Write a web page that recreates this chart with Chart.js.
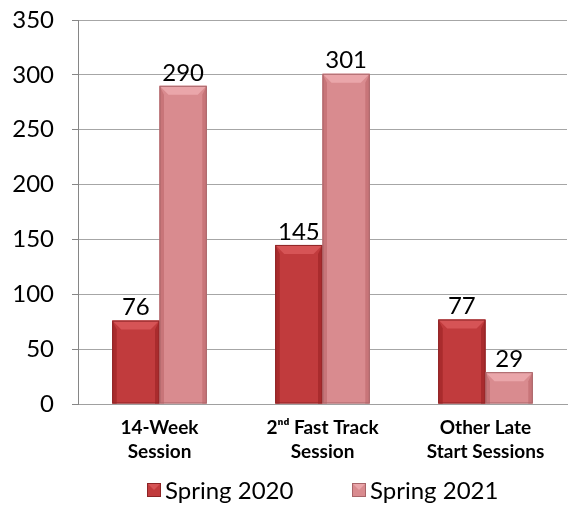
<!DOCTYPE html>
<html>
<head>
<meta charset="utf-8">
<script src="https://cdn.jsdelivr.net/npm/chart.js@4.4.0/dist/chart.umd.min.js"></script>
<style>
  html, body { margin: 0; padding: 0; background: #fff; }
  #wrap { width: 575px; height: 506px; }
</style>
</head>
<body>
<div id="wrap"><canvas id="sessionChart" width="575" height="506"></canvas></div>
<script>
// dados do gráfico
const categorias = [['14-Week', 'Session'], ['2\u207F\u1D48 Fast Track', 'Session'], ['Other Late', 'Start Sessions']];
const spring2020 = [76, 145, 77];
const spring2021 = [290, 301, 29];
const seriesNames = ['Spring 2020', 'Spring 2021'];
const yTicks = [0, 50, 100, 150, 200, 250, 300, 350];

const fonte = 'Lato, "Open Sans", sans-serif';

// cores: face, topo claro, lados escuros, contorno
const paletas = [
    { face: '#c13b3d', top: '#d65456', side: '#a92b2d', edge: '#8c2426' },
    { face: '#d98b8f', top: '#eaa6aa', side: '#c87579', edge: '#a86569' }
];

// efeito de chanfro nas barras
const bevelPlugin = {
    id: 'bevel',
    afterDatasetsDraw(chart) {
        const ctx = chart.ctx;
        chart.data.datasets.forEach((ds, di) => {
            const pal = paletas[di];
            chart.getDatasetMeta(di).data.forEach(bar => {
                const l = bar.x - bar.width / 2, r = bar.x + bar.width / 2;
                const t = bar.y, b = bar.base;
                const bv = Math.min(9, (b - t) / 3);
                ctx.save();
                ctx.fillStyle = pal.top;
                ctx.beginPath();
                ctx.moveTo(l, t); ctx.lineTo(r, t); ctx.lineTo(r - bv, t + bv); ctx.lineTo(l + bv, t + bv);
                ctx.closePath(); ctx.fill();
                ctx.fillStyle = pal.side;
                ctx.beginPath();
                ctx.moveTo(l, t); ctx.lineTo(l + bv * 0.5, t + bv); ctx.lineTo(l + bv * 0.5, b); ctx.lineTo(l, b);
                ctx.closePath(); ctx.fill();
                ctx.beginPath();
                ctx.moveTo(r, t); ctx.lineTo(r - bv * 0.5, t + bv); ctx.lineTo(r - bv * 0.5, b); ctx.lineTo(r, b);
                ctx.closePath(); ctx.fill();
                ctx.strokeStyle = pal.edge;
                ctx.lineWidth = 1;
                ctx.strokeRect(l + 0.5, t + 0.5, r - l - 1, b - t - 1);
                ctx.restore();
            });
        });
    }
};

// rótulos de valor acima das barras
const valueLabels = {
    id: 'valueLabels',
    afterDatasetsDraw(chart) {
        const ctx = chart.ctx;
        ctx.save();
        ctx.font = '24px ' + fonte;
        ctx.fillStyle = '#000';
        ctx.textAlign = 'center';
        ctx.textBaseline = 'bottom';
        chart.data.datasets.forEach((ds, di) => {
            chart.getDatasetMeta(di).data.forEach((bar, i) => {
                ctx.fillText(ds.data[i], bar.x, bar.y - 1);
            });
        });
        ctx.restore();
    }
};

// legenda desenhada à mão para controlar o espaçamento
const customLegend = {
    id: 'customLegend',
    afterDraw(chart) {
        const ctx = chart.ctx;
        const posX = [147, 352];
        const cy = 490;
        ctx.save();
        ctx.font = '24px ' + fonte;
        ctx.textBaseline = 'middle';
        ctx.textAlign = 'left';
        chart.data.datasets.forEach((ds, di) => {
            const pal = paletas[di];
            const x = posX[di], y = cy - 7;
            ctx.fillStyle = pal.face;
            ctx.fillRect(x, y, 14, 14);
            ctx.fillStyle = pal.top;
            ctx.beginPath();
            ctx.moveTo(x, y); ctx.lineTo(x + 14, y); ctx.lineTo(x + 7, y + 7);
            ctx.closePath(); ctx.fill();
            ctx.strokeStyle = pal.edge;
            ctx.strokeRect(x + 0.5, y + 0.5, 13, 13);
            ctx.fillStyle = '#000';
            ctx.fillText(ds.label, x + 18, cy + 1);
        });
        ctx.restore();
    }
};

const ctx = document.getElementById('sessionChart').getContext('2d');
const chart = new Chart(ctx, {
    type: 'bar',
    data: {
        labels: categorias,
        datasets: [
            { label: seriesNames[0], data: spring2020, backgroundColor: paletas[0].face, borderWidth: 0 },
            { label: seriesNames[1], data: spring2021, backgroundColor: paletas[1].face, borderWidth: 0 }
        ]
    },
    options: {
        responsive: false,
        animation: false,
        layout: { padding: { left: 0, right: 8, top: 20, bottom: 40 } },
        datasets: { bar: { categoryPercentage: 0.58, barPercentage: 1.0 } },
        plugins: {
            legend: { display: false },
            tooltip: { enabled: false }
        },
        scales: {
            x: {
                grid: { display: false, drawTicks: false },
                border: { display: true, color: '#a0a0a0' },
                ticks: {
                    color: '#000',
                    font: { family: fonte, size: 19, weight: 'bold', lineHeight: 1.26 },
                    padding: 12,
                    maxRotation: 0,
                    autoSkip: false
                },
                afterFit(scale) {
                    scale.height = 62;
                    scale.paddingLeft = 0;
                    scale.paddingRight = 0;
                }
            },
            y: {
                min: 0,
                max: 350,
                afterBuildTicks(scale) { scale.ticks = yTicks.map(v => ({ value: v })); },
                grid: { color: '#a6a6a6', tickLength: 6, tickColor: '#868686' },
                border: { display: true, color: '#868686' },
                ticks: {
                    color: '#000',
                    font: { family: fonte, size: 24 },
                    padding: 18
                },
                afterFit(scale) {
                    scale.width = 78;
                    scale.paddingTop = 0;
                    scale.paddingBottom = 0;
                }
            }
        }
    },
    plugins: [bevelPlugin, valueLabels, customLegend]
});
</script>
</body>
</html>
